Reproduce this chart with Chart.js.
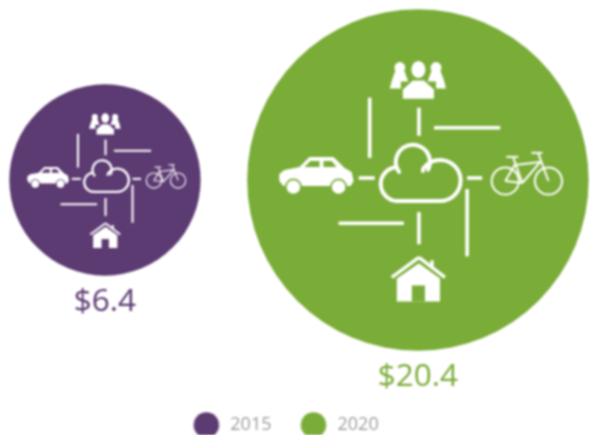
<!DOCTYPE html>
<html>
<head>
<meta charset="utf-8">
<title>2015 vs 2020</title>
<script src="https://cdn.jsdelivr.net/npm/chart.js@4"></script>
<style>
  html, body { margin: 0; padding: 0; background: #fff; }
  canvas { display: block; filter: blur(0.8px); }
</style>
</head>
<body>
<canvas id="chart" width="590" height="435"></canvas>
<script>
const years = [2015, 2020]
const yearLabels = ['2015', '2020']
const values = [6.4, 20.4]
const valueLabels = ['$6.4', '$20.4']
const seriesColors = ['#5c3a72', '#7aac38']

// bubble radius in px per sqrt(value), area follows the value
const RADIUS_PER_ROOT = 37.8
// icons were measured on the big bubble, other bubbles scale from it
const ICON_BASE_RADIUS = 170
const LEGEND_DOT_RADIUS = 12.7

function strokeSegments(ctx, segments) {
  segments.forEach(([x1, y1, x2, y2]) => {
    ctx.beginPath()
    ctx.moveTo(x1, y1)
    ctx.lineTo(x2, y2)
    ctx.stroke()
  })
}

function fillShape(ctx, points) {
  ctx.beginPath()
  points.forEach(([x, y], i) => (i ? ctx.lineTo(x, y) : ctx.moveTo(x, y)))
  ctx.closePath()
  ctx.fill()
}

function fillDot(ctx, x, y, r) {
  ctx.beginPath()
  ctx.arc(x, y, r, 0, Math.PI * 2)
  ctx.fill()
}

// pointStyleWidth stretches a 'circle' into an ellipse, so the legend gets a drawn dot
function legendDot(color) {
  const dot = document.createElement('canvas')
  dot.width = dot.height = Math.ceil(LEGEND_DOT_RADIUS * 2) + 2
  const ctx = dot.getContext('2d')
  ctx.fillStyle = color
  fillDot(ctx, dot.width / 2, dot.height / 2, LEGEND_DOT_RADIUS)
  return dot
}

function drawConnectors(ctx) {
  ctx.lineWidth = 3.6
  strokeSegments(ctx, [
    [-48, -82, -48, -22],
    [1, -72, 1, -44],
    [16, -52, 82, -52],
    [-59, -2, -43, -2],
    [49, -2, 64, -2],
    [49, 9, 49, 76],
    [1, 32, 1, 64],
    [-79, 43, -14, 43]
  ])
}

function drawCloud(ctx) {
  ctx.lineWidth = 4
  ctx.beginPath()
  ctx.moveTo(-20, 21)
  ctx.lineTo(22, 21)
  ctx.arc(22, 0.5, 20.5, Math.PI / 2, -Math.PI * 0.8, true)
  ctx.lineTo(5, -9)
  ctx.stroke()
  ctx.beginPath()
  ctx.arc(-5, -18, 17, Math.PI * 0.15, Math.PI * 0.8, true)
  ctx.stroke()
  ctx.beginPath()
  ctx.arc(-20, 4, 17, -Math.PI * 0.55, Math.PI / 2, true)
  ctx.stroke()
}

function drawCar(ctx, bg) {
  ctx.fillStyle = '#fff'
  fillShape(ctx, [
    [-138, -6], [-133, -10], [-118, -13], [-108, -23], [-84, -23], [-73, -12],
    [-66, -8], [-64, 1], [-67, 6], [-134, 6], [-138, 1]
  ])
  ctx.fillStyle = bg
  fillShape(ctx, [[-113, -13], [-107, -19], [-98, -19], [-98, -13]])
  fillShape(ctx, [[-94, -19], [-86, -19], [-81, -13], [-94, -13]])
  fillDot(ctx, -124, 7, 8.4)
  fillDot(ctx, -79, 7, 8.4)
  ctx.fillStyle = '#fff'
  fillDot(ctx, -124, 7, 6.8)
  fillDot(ctx, -79, 7, 6.8)
}

function drawBike(ctx) {
  ctx.lineWidth = 2
  ;[87, 130].forEach(x => {
    ctx.beginPath()
    ctx.arc(x, 1, 13.5, 0, Math.PI * 2)
    ctx.stroke()
  })
  strokeSegments(ctx, [
    [87, 1, 104, 3],
    [87, 1, 97, -16],
    [95, -22, 104, 3],
    [97, -15, 122, -18],
    [122, -18, 104, 3],
    [120, -26, 130, 1],
    [113, -27, 124, -27],
    [88, -23, 100, -23]
  ])
}

function drawPeople(ctx, bg) {
  ctx.fillStyle = '#fff'
  ;[-1, 1].forEach(side => {
    const x = side * 18
    fillDot(ctx, x, -112, 5.4)
    fillShape(ctx, [
      [x - 10, -91], [x - 8, -99], [x - 4, -110], [x + 4, -110],
      [x + 8, -99], [x + 10, -91]
    ])
  })
  ctx.fillStyle = bg
  fillDot(ctx, 0.5, -108, 10)
  fillShape(ctx, [[-17, -98], [18, -98], [18, -80], [-17, -80]])
  ctx.fillStyle = '#fff'
  ctx.beginPath()
  ctx.ellipse(0.5, -110, 7, 8.5, 0, 0, Math.PI * 2)
  ctx.fill()
  fillShape(ctx, [
    [-15, -81], [-15, -90], [-5, -99], [6, -99], [16, -90], [16, -81]
  ])
}

function drawHouse(ctx, bg) {
  ctx.lineWidth = 3.4
  strokeSegments(ctx, [[-26, 97, 1, 77], [1, 77, 27, 97], [14, 80, 14, 88]])
  ctx.fillStyle = '#fff'
  fillShape(ctx, [[-21, 98], [1, 83], [22, 98], [22, 121], [-21, 121]])
  ctx.fillStyle = bg
  fillShape(ctx, [[-6, 105], [7, 105], [7, 121], [-6, 121]])
}

const bubbleExtras = {
  id: 'bubbleExtras',
  afterDatasetsDraw(chart) {
    const ctx = chart.ctx
    chart.data.datasets.forEach((ds, i) => {
      const bubble = chart.getDatasetMeta(i).data[0]
      const r = ds.data[0].r
      ctx.save()
      ctx.translate(bubble.x, bubble.y)
      ctx.scale(r / ICON_BASE_RADIUS, r / ICON_BASE_RADIUS)
      ctx.strokeStyle = '#fff'
      ctx.lineCap = 'butt'
      drawConnectors(ctx)
      ctx.lineCap = 'round'
      drawCloud(ctx)
      ctx.lineCap = 'butt'
      drawCar(ctx, ds.backgroundColor)
      drawBike(ctx)
      drawPeople(ctx, ds.backgroundColor)
      drawHouse(ctx, ds.backgroundColor)
      ctx.restore()

      // value label under the bubble
      ctx.save()
      ctx.fillStyle = ds.backgroundColor
      ctx.font = '31.5px "Open Sans"'
      ctx.textAlign = 'center'
      ctx.textBaseline = 'middle'
      ctx.fillText(valueLabels[i], bubble.x, bubble.y + r + 26)
      ctx.restore()
    })
  }
}

new Chart(document.getElementById('chart'), {
  type: 'bubble',
  data: {
    datasets: years.map((year, i) => ({
      label: yearLabels[i],
      data: [{ x: year, y: 0, r: Math.sqrt(values[i]) * RADIUS_PER_ROOT }],
      backgroundColor: seriesColors[i],
      borderWidth: 0,
      clip: false
    }))
  },
  options: {
    responsive: false,
    animation: false,
    layout: { autoPadding: false, padding: { right: 20, bottom: -9 } },
    scales: {
      x: { type: 'linear', display: false, min: 2013.323, max: 2022.43 },
      y: { type: 'linear', display: false, min: -209, max: 180 }
    },
    plugins: {
      tooltip: { enabled: false },
      legend: {
        position: 'bottom',
        labels: {
          usePointStyle: true,
          pointStyleWidth: 30,
          boxHeight: 18,
          padding: 27,
          color: '#9c9c9c',
          font: { family: '"Open Sans"', size: 18 },
          generateLabels(chart) {
            const items = Chart.defaults.plugins.legend.labels.generateLabels(chart)
            items.forEach((item, i) => { item.pointStyle = legendDot(seriesColors[i]) })
            return items
          }
        }
      }
    }
  },
  plugins: [bubbleExtras]
})
</script>
</body>
</html>
